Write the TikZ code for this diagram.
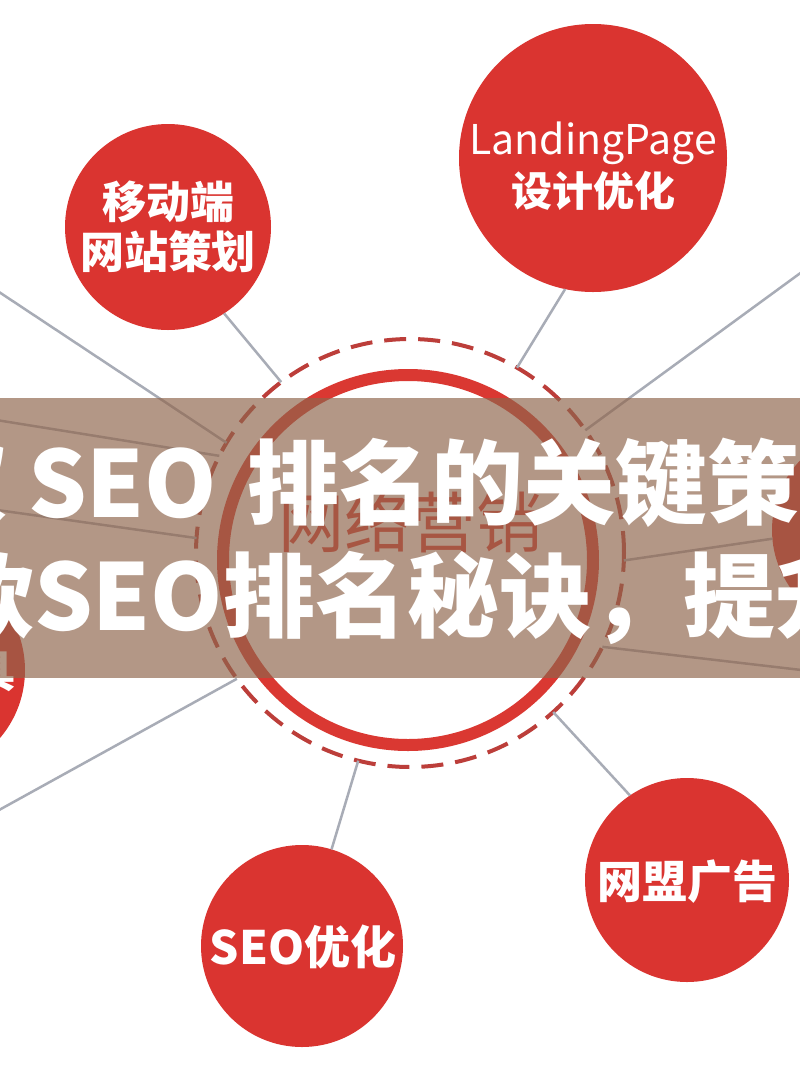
\documentclass[tikz,border=0pt]{standalone}
\usepackage{fontspec}
\newfontfamily\cjk{Noto Sans CJK SC}
\definecolor{satred}{RGB}{218,52,48}
\definecolor{ringred}{RGB}{218,56,50}
\definecolor{dashred}{RGB}{188,62,58}
\definecolor{linegray}{RGB}{168,172,182}
\definecolor{bannerbrown}{RGB}{143,101,76}
\begin{document}
\begin{tikzpicture}[x=1pt,y=-1pt,
  sat/.style={circle, fill=satred, inner sep=0, outer sep=0},
  lbl/.style={text=white, align=center, inner sep=0, font=\cjk\bfseries\fontsize{44}{50}\selectfont},
  conn/.style={draw=linegray, line width=2.5},
  bantxt/.style={text=white, inner sep=0, anchor=west, font=\cjk\bfseries\fontsize{92}{100}\selectfont}]
\useasboundingbox (0,0) rectangle (800,1080);
\clip (0,0) rectangle (800,1080);
\fill[white] (0,0) rectangle (800,1080);

% satellites
\node[sat, minimum size=206] (mob) at (168,227) {};
\node[lbl] (mobt) at (168,227) {移动端\\网站策划};
\node[sat, minimum size=268] (lp) at (593,158) {};
\node[lbl, font=\cjk\fontsize{41}{52}\selectfont] (lpt) at (593,166) {LandingPage\\{\bfseries 设计优化}};
\node[sat, minimum size=202] (seo) at (302,946) {};
\node[lbl, font=\cjk\bfseries\fontsize{46}{50}\selectfont] (seot) at (303,947) {SEO优化};
\node[sat, minimum size=204] (wm) at (687,880) {};
\node[lbl, font=\cjk\bfseries\fontsize{45}{50}\selectfont] (wmt) at (687,882) {网盟广告};
\node[sat, minimum size=200] (rc) at (872,530) {};
\node[sat, minimum size=210] (lc) at (-80,670) {};
\node[lbl, anchor=east] (lct) at (16,672) {具};

% center rings
\node[circle, minimum size=370, draw=ringred, line width=12, inner sep=0, outer sep=0] (R) at (408,560) {};
\node[circle, minimum size=428, draw=dashred, line width=4, dash pattern=on 22pt off 12pt, inner sep=0, outer sep=0] (D) at (410,553) {};
\node[text=ringred, inner sep=0, font=\cjk\fontsize{66}{70}\selectfont] (ct) at (410,522) {网络营销};

% connectors
\coordinate (fl1) at (-10,286);
\coordinate (fl2) at (-10,419);
\coordinate (fl3) at (-10,509);
\coordinate (fl4) at (-10,815);
\coordinate (fr1) at (810,266);
\coordinate (fr2) at (810,671);
\draw[conn] (mob.-57) -- (D.127);
\draw[conn] (lp.-102) -- (D.60);
\draw[conn] (seo.73) -- (D.-104);
\draw[conn] (wm.124) -- (D.-48);
\draw[conn] (fl1) -- (D.149);
\draw[conn] (fl2) -- (D.153);
\draw[conn] (fl3) -- (D.176);
\draw[conn] (fl4) -- (D.-144);
\draw[conn] (fr1) -- (D.35);
\draw[conn] (fr2) -- (D.-26);
\draw[conn] (rc.185) -- (D.-2);

% banner
\node[fill=bannerbrown, fill opacity=0.67, minimum width=800, minimum height=280, inner sep=0, outer sep=0] (banner) at (400,538) {};
\node[bantxt] (t1) at (-84,483) {权\hspace{20pt}SEO\hspace{30pt}排名的关键策略};
\node[bantxt] (t2) at (-58,598) {款SEO排名秘诀，提升};
\end{tikzpicture}
\end{document}
